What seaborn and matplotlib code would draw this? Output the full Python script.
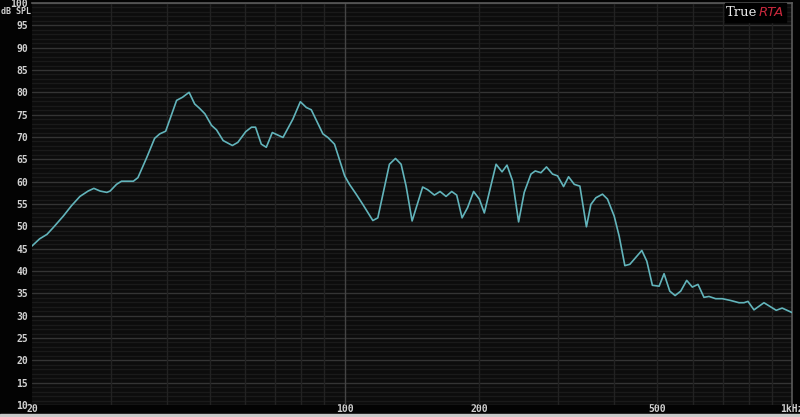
import numpy as np
import pandas as pd
import seaborn as sns
import matplotlib.pyplot as plt
from matplotlib.patches import Rectangle

# frequency response
freq_hz = [20.0, 20.8, 21.6, 22.3, 23.5, 24.5, 25.6, 26.7, 27.5, 28.4,
           29.4, 29.9, 30.9, 31.7, 33.7, 34.5, 36.1, 37.6, 38.6, 39.8,
           42.1, 43.4, 44.9, 46.2, 47.4, 48.7, 50.4, 51.7, 53.5, 56.1,
           57.7, 60.1, 61.9, 63.2, 65.1, 66.8, 68.9, 72.8, 76.6, 79.6,
           82.1, 84.2, 89.4, 91.7, 94.9, 100.0, 102.5, 106.1, 109.8, 115.6,
           118.6, 125.9, 129.9, 133.7, 137.2, 141.5, 149.4, 153.3, 158.7, 163.4,
           168.5, 173.5, 178.0, 183.0, 188.3, 194.2, 200.0, 205.2, 218.0, 224.8,
           230.6, 237.3, 244.8, 252.0, 260.9, 266.7, 274.6, 282.6, 291.5, 299.2,
           308.6, 316.6, 326.0, 335.6, 347.1, 355.1, 364.4, 377.0, 386.8, 400.4,
           410.8, 423.0, 434.0, 461.6, 473.6, 487.4, 504.6, 517.6, 533.0, 547.8,
           564.0, 581.6, 598.6, 616.4, 635.6, 652.2, 675.0, 698.4, 729.2, 761.2,
           781.0, 797.2, 822.2, 865.6, 922.0, 950.6, 1000.0]
spl_db = [45.6, 47.2, 48.2, 49.7, 52.3, 54.6, 56.7, 57.9, 58.5, 57.9,
          57.6, 57.9, 59.4, 60.1, 60.1, 60.9, 65.4, 69.7, 70.7, 71.3,
          78.2, 78.9, 80.0, 77.4, 76.4, 75.2, 72.6, 71.6, 69.2, 68.1,
          68.8, 71.2, 72.2, 72.2, 68.4, 67.7, 71.0, 69.9, 74.0, 77.9,
          76.6, 76.1, 70.7, 69.9, 68.4, 61.3, 59.4, 57.2, 54.9, 51.3,
          51.9, 63.9, 65.2, 63.9, 59.0, 51.2, 58.8, 58.2, 57.0, 57.8,
          56.7, 57.8, 57.0, 51.9, 54.2, 57.8, 56.1, 53.0, 63.9, 62.2,
          63.7, 60.2, 51.0, 57.6, 61.7, 62.4, 62.0, 63.3, 61.7, 61.3,
          58.9, 61.1, 59.4, 59.0, 49.9, 54.9, 56.4, 57.2, 56.1, 52.3,
          47.8, 41.2, 41.5, 44.6, 42.2, 36.8, 36.6, 39.4, 35.5, 34.5,
          35.5, 37.9, 36.4, 37.0, 34.1, 34.3, 33.8, 33.8, 33.4, 32.9,
          32.9, 33.2, 31.3, 32.9, 31.2, 31.7, 30.7]

x_ticks = [20, 100, 200, 500, 1000]
x_labels = ["20", "100", "200", "500", "1kHz"]
y_ticks = list(range(10, 101, 5))

df = pd.DataFrame({"freq": freq_hz, "spl": spl_db})

sns.set_style("dark")
plt.rcParams['font.family'] = ['DejaVu Sans Mono', 'DejaVu Sans']

fig = plt.figure(figsize=(8, 4.17), dpi=100, facecolor="#030303")
ax = fig.add_axes([32 / 800, 12 / 417, 760 / 800, 402 / 417])
ax.set_facecolor("#0c0c0c")

# grid: 1 dB minor, 5 dB major, log frequency verticals
for v in range(10, 101):
    ax.axhline(v, color="#343434" if v % 5 == 0 else "#1a1a1a",
               lw=1.0, zorder=1)
vlines = list(range(30, 100, 10)) + list(range(200, 1000, 100))
for f in vlines:
    ax.axvline(f, color="#222222", lw=1.0, zorder=1)
ax.axvline(100, color="#444444", lw=1.0, zorder=1)

sns.lineplot(data=df, x="freq", y="spl", ax=ax, color="#62b4bb",
             lw=1.2, zorder=3)

ax.set_xscale("log")
ax.set_xlim(20, 1000)
ax.set_ylim(10, 100)
ax.grid(False)
for side in ["left", "bottom"]:
    ax.spines[side].set_visible(False)
for side in ["top", "right"]:
    ax.spines[side].set_color("#5a5a5a")
    ax.spines[side].set_linewidth(1.2)

ax.set_yticks(y_ticks)
ax.set_yticklabels([str(v) for v in y_ticks])
ax.set_xticks(x_ticks)
ax.set_xticklabels(x_labels)
ax.xaxis.set_minor_locator(plt.NullLocator())
ax.tick_params(axis="y", length=0, pad=3, labelsize=7, labelcolor="#d0d0d0")
ax.tick_params(axis="x", length=0, pad=-1, labelsize=7, labelcolor="#d0d0d0")
for lab in ax.get_xticklabels() + ax.get_yticklabels():
    lab.set_fontweight("bold")
ax.set_xlabel("")
ax.set_ylabel("")

fig.text(31 / 800, 1 - 12 / 417, "dB SPL", ha="right", va="center",
         fontsize=6, fontweight="bold", color="#d0d0d0")

# TrueRTA logo box
fig.patches.append(Rectangle((725 / 800, 1 - 22 / 417), 61 / 800, 19 / 417,
                             transform=fig.transFigure, color="#000000",
                             zorder=5))
fig.text(726 / 800, 1 - 12.5 / 417, "True", ha="left", va="center",
         fontsize=9.5, family="DejaVu Serif", color="#e8e8e8", zorder=6)
fig.text(784 / 800, 1 - 12.5 / 417, "RTA", ha="right", va="center",
         fontsize=9.5, family="DejaVu Sans", style="italic",
         color="#c8283c", zorder=6)

# light strip along the bottom edge
fig.patches.append(Rectangle((0, 0), 1, 3 / 417, transform=fig.transFigure,
                             color="#c8c8c8", zorder=5))

fig.savefig("out.png", dpi=100, facecolor=fig.get_facecolor())
